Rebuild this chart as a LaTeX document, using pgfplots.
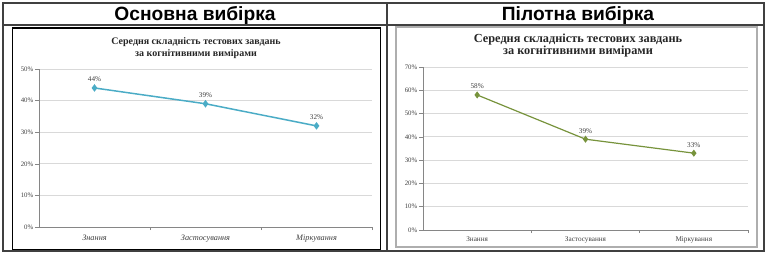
\documentclass[border=0pt]{standalone}
\usepackage{pgfplots}
\pgfplotsset{compat=1.18}
\usepackage{fontspec}
\setmainfont{Liberation Serif}
\newfontfamily\arial{Liberation Sans}
\definecolor{lblue}{RGB}{75,172,198}
\definecolor{olive}{RGB}{119,147,60}
\definecolor{gridc}{RGB}{217,217,217}
\definecolor{axc}{RGB}{134,134,134}
\definecolor{tickc}{RGB}{64,64,64}
\pgfplotsset{
  base/.style={
    scale only axis,
    anchor=south west,
    xmin=-0.5, xmax=2.5, ymin=0,
    axis x line*=bottom, axis y line*=left,
    axis line style={draw=axc, line width=0.8pt, -},
    ymajorgrids, grid style={draw=gridc, line width=0.8pt},
    xtick={0,1,2},
    major x tick style={draw=none},
    minor xtick={0.5,1.5,2.5},
    minor x tick style={draw=axc, line width=0.6pt},
    minor tick length=3pt,
    major tick length=4pt,
    tick align=outside,
    y tick style={draw=axc, line width=0.6pt},
    /pgf/number format/assume math mode=true,
    yticklabel={\pgfmathprintnumber{\tick}\%},
    yticklabel style={font=\fontsize{6.8}{7}\selectfont, text=tickc, inner xsep=1.5pt},
    clip=false,
    nodes near coords={\pgfmathprintnumber{\pgfplotspointmeta}\%},
    nodes near coords style={font=\fontsize{7.2}{8}\selectfont, text=tickc, yshift=2pt},
  }
}
\begin{document}
\begin{tikzpicture}[x=1pt,y=1pt]
\useasboundingbox (0,0) rectangle (768,-254);
% table frame
\draw[draw=tickc, line width=1.2pt] (3,-3) rectangle (764,-251);
\draw[draw=tickc, line width=1.5pt] (3,-25) -- (764,-25);
\draw[draw=tickc, line width=1.5pt] (387,-3) -- (387,-251);
\node[font=\arial\bfseries\fontsize{19.2}{20}\selectfont] at (195,-15) {Основна вибірка};
\node[font=\arial\bfseries\fontsize{19.2}{20}\selectfont] at (578,-15) {Пілотна вибірка};
% inner boxes
\draw[draw=black, line width=1.6pt] (12.5,-28) rectangle (380.5,-249.5);
\draw[draw=gridc!80!black, line width=1.4pt] (396,-27) rectangle (757,-247);
% titles
\node[font=\bfseries\fontsize{10}{12}\selectfont, align=center, text=black!85] at (196,-48) {Середня складність тестових завдань\\за когнітивними вимірами};
\node[font=\bfseries\fontsize{12.3}{12}\selectfont, align=center, text=black!85] at (578,-46) {Середня складність тестових завдань\\за когнітивними вимірами};

\begin{axis}[base, at={(39pt,-227pt)}, width=333pt, height=158pt, ymax=50,
  ytick={0,10,20,30,40,50},
  xticklabels={Знання, Застосування, Міркування},
  xticklabel style={font=\itshape\fontsize{8.3}{9}\selectfont, text=tickc, yshift=-0.5pt}]
\addplot[color=lblue, line width=1.5pt, mark=diamond*, mark size=2.6pt] coordinates {(0,44) (1,39) (2,32)};
\end{axis}

\begin{axis}[base, at={(423pt,-230pt)}, width=325pt, height=163pt, ymax=70,
  ytick={0,10,20,30,40,50,60,70},
  xticklabels={Знання, Застосування, Міркування},
  xticklabel style={font=\fontsize{7.2}{8}\selectfont, text=tickc, yshift=1pt}]
\addplot[color=olive, line width=1.2pt, mark=diamond*, mark size=2.6pt] coordinates {(0,58) (1,39) (2,33)};
\end{axis}
\end{tikzpicture}
\end{document}
